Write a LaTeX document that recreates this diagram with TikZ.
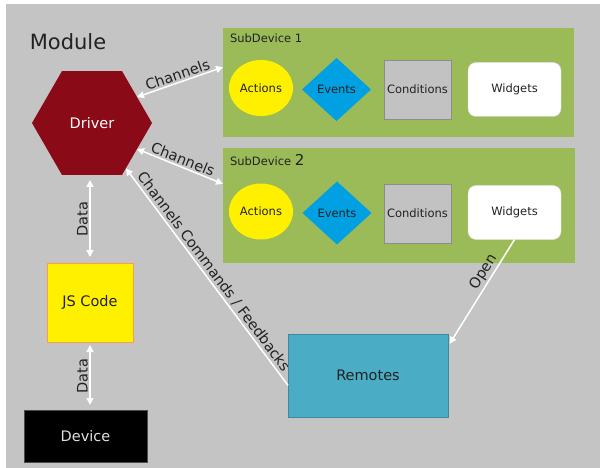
\documentclass[tikz,border=0pt]{standalone}
\usepackage{fontspec}
\setmainfont{DejaVu Sans}
\usetikzlibrary{shapes.geometric,arrows.meta}
\definecolor{modgray}{HTML}{C4C4C4}
\definecolor{subgreen}{HTML}{9BBB59}
\definecolor{drvred}{HTML}{8A0A18}
\definecolor{actyellow}{HTML}{FFF000}
\definecolor{evblue}{HTML}{00A0E2}
\definecolor{condgray}{HTML}{C2C2C2}
\definecolor{remblue}{HTML}{4BACC6}
\definecolor{jsorange}{HTML}{F7A048}
\definecolor{txtdark}{HTML}{222222}
\begin{document}
\begin{tikzpicture}[x=1pt,y=-1pt,
>={Triangle[length=7pt,width=7pt]},
small/.style={%
inner sep=0pt,
outer sep=0pt,
text=txtdark,
font=\fontsize{11.5}{12}\selectfont
},
subdev/.style={%
fill=subgreen,
inner sep=0pt,
outer sep=0pt
},
act/.style={%
small,
ellipse,
fill=actyellow,
minimum width=64,
minimum height=56
},
evt/.style={%
small,
diamond,
fill=evblue,
minimum width=69,
minimum height=63
},
cond/.style={%
small,
draw=black!45,
fill=condgray,
minimum width=67,
minimum height=59
},
wdg/.style={%
small,
draw=black!15,
fill=white,
rounded corners=8pt,
minimum width=93,
minimum height=54
},
big/.style={%
inner sep=0pt,
outer sep=0pt,
font=\fontsize{14.5}{15}\selectfont
},
wire/.style={%
draw=white,
line width=1.5pt
},
elabel/.style={%
text=txtdark,
inner sep=1.5pt,
font=\fontsize{14.5}{15}\selectfont
},
]
%% background
\fill[white](0,0)rectangle(600,468);
\fill[modgray](6,4)rectangle(600,468);
\node[text=txtdark,font=\fontsize{21}{22}\selectfont](mod)at(68,42){Module};
%% SubDevices
\node[subdev,minimum width=351,minimum height=109](sd1)at(398.5,82.5){};
\node[subdev,minimum width=352,minimum height=115](sd2)at(399,205.5){};
\node[small,anchor=west](sdl1)at(230,38){SubDevice 1};
\node[small,anchor=west](sdl2)at(230,160){SubDevice {\fontsize{15}{15}\selectfont 2}};
%% SubDevice 1
\node[act](act1)at(261,88){Actions};
\node[evt](evt1)at(336.5,89.5){Events};
\node[cond](cond1)at(417.5,89.5){Conditions};
\node[wdg](wdg1)at(514.5,89.5){Widgets};
%% SubDevice 2
\node[act](act2)at(261,211.5){Actions};
\node[evt](evt2)at(337,213){Events};
\node[cond](cond2)at(417.5,213.5){Conditions};
\node[wdg](wdg2)at(514.5,212.5){Widgets};
%% Driver, code, device, remotes
\node[big,regular polygon,regular polygon sides=6,minimum size=120,fill=drvred,text=white](drv)at(92,123){Driver};
\node[big,draw=jsorange,line width=1pt,fill=actyellow,text=txtdark,minimum width=86,minimum height=79](js)at(90,302.5){JS Code};
\node[big,draw=black!70,fill=black,text=black!12,minimum width=123,minimum height=52](dev)at(85.5,436){Device};
\node[big,draw=remblue!80!black,fill=remblue,text=txtdark,minimum width=160,minimum height=83](rem)at(368,375.5){Remotes};
%% connectors
\draw[wire,<->](drv.30)--(sd1.175)node[elabel,midway,sloped,above]{Channels};
\draw[wire,<->](drv.-30)--(sd2.173)node[elabel,midway,sloped,above]{Channels};
\draw[wire,->](rem.187)--(drv)node[elabel,midway,sloped,above]{Channels Commands / Feedbacks};
\draw[wire,<->,shorten <=5pt,shorten >=6pt](drv.south -| js.north)--(js.north)node[elabel,midway,rotate=90,above]{Data};
\draw[wire,<->,shorten <=3pt,shorten >=5pt](js.south)--(js.south |- dev.north)node[elabel,midway,rotate=90,above]{Data};
\draw[wire,->,shorten >=3pt](wdg2.south)--(rem.20)node[elabel,pos=0.35,sloped,above]{Open};
\end{tikzpicture}
\end{document}
